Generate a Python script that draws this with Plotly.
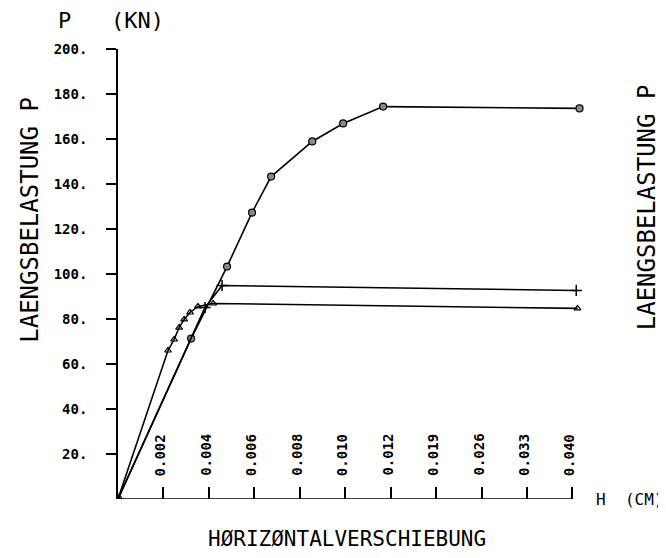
import numpy as np
import plotly.graph_objects as go

# horizontal displacement H (cm) and longitudinal load P (kN)
h_circle = [0.0, 0.00322, 0.0048, 0.0059, 0.00674, 0.00855, 0.00991, 0.01167, 0.0411]
p_circle = [0.0, 71.3, 103.3, 127.3, 143.3, 158.9, 166.9, 174.4, 173.6]

h_plus = [0.0, 0.00383, 0.00458, 0.0406]
p_plus = [0.0, 85.1, 94.9, 92.7]

h_tri = [0.0, 0.0022, 0.00247, 0.00269, 0.00291, 0.00317, 0.00352, 0.00419, 0.0408]
p_tri = [0.0, 66.0, 70.9, 76.2, 79.8, 82.9, 85.6, 86.9, 84.7]

h_ticks = [0.002, 0.004, 0.006, 0.008, 0.010, 0.012, 0.019, 0.026, 0.033, 0.040]
h_tick_text = ["0.002", "0.004", "0.006", "0.008", "0.010", "0.012", "0.019", "0.026", "0.033", "0.040"]
p_ticks = [20, 40, 60, 80, 100, 120, 140, 160, 180, 200]
p_tick_text = [f"{v}." for v in p_ticks]

# the H axis changes its step after 0.012: 0.002 per tick, then 0.007 per tick
H_BREAKS = [0.0, 0.012, 0.040]
H_POS = [0.0, 6.0, 10.0]


def hpos(h):
    h = np.asarray(h, dtype=float)
    return np.where(h <= 0.040, np.interp(h, H_BREAKS, H_POS), 10.0 + (h - 0.040) / 0.007)


MONO = "DejaVu Sans Mono"
OFF = 8                      # page body margin
W, H = 666 - OFF, 558 - 2 * OFF
X0, Y0 = 118, 499.5          # origin in window pixels
PX_UNIT = 45.4               # pixels per H tick
XMAX = 10.3
PW, PH = XMAX * PX_UNIT, 450.5
L, T = X0 - OFF, Y0 - PH - OFF
R, B = W - L - PW, H - T - PH


def px(x):
    return (x - X0) / PW


def py(y):
    return (Y0 - y) / PH


fig = go.Figure()
line = dict(color="black", width=1.6)
fig.add_trace(go.Scatter(x=hpos(h_circle), y=p_circle, mode="lines+markers", line=line,
                         marker=dict(symbol="circle", size=7, color="#8a8a8a",
                                     line=dict(color="black", width=1.2))))
fig.add_trace(go.Scatter(x=hpos(h_plus), y=p_plus, mode="lines+markers", line=line,
                         marker=dict(symbol="cross-thin-open", size=8,
                                     line=dict(color="black", width=1.5))))
fig.add_trace(go.Scatter(x=hpos(h_tri), y=p_tri, mode="lines+markers", line=line,
                         marker=dict(symbol="triangle-up-open", size=6,
                                     line=dict(color="black", width=1.2))))

fig.update_layout(
    width=W, height=H, showlegend=False,
    paper_bgcolor="white", plot_bgcolor="white",
    margin=dict(l=L, r=R, t=T, b=B, autoexpand=False),
    font=dict(family=MONO, color="black"),
    xaxis=dict(range=[0, XMAX], showgrid=False, zeroline=False, showline=False,
               ticks="inside", ticklen=12, tickwidth=1.6, tickcolor="black",
               tickvals=list(hpos(h_ticks)), showticklabels=False),
    yaxis=dict(range=[0, 200], showgrid=False, zeroline=False, showline=True,
               linecolor="black", linewidth=1.6, ticks="outside", ticklen=10,
               tickwidth=1.6, tickcolor="black",
               tickvals=p_ticks, ticktext=p_tick_text, ticklabelstandoff=16,
               tickfont=dict(family=MONO, size=14, weight="bold")),
)

# H axis line stops at the last tick
fig.add_shape(type="line", xref="x", yref="y", x0=0, x1=float(hpos([0.040])[0]), y0=0, y1=0,
              line=dict(color="black", width=1.6))

for xv, txt in zip(hpos(h_ticks), h_tick_text):
    fig.add_annotation(text=txt, x=float(xv), y=0, xref="x", yref="y", showarrow=False,
                       textangle=-90, xanchor="center", yanchor="bottom", yshift=21, xshift=-3,
                       font=dict(family=MONO, size=14, weight="bold", color="black"))

notes = [
    ("P   (KN)", 56, 20, 22, 0, "left"),
    ("LAENGSBELASTUNG P", 30, 220, 24, -90, "center"),
    ("LAENGSBELASTUNG P", 646, 207, 24, -90, "center"),
    ("H  (CM)", 594, 500, 16, 0, "left"),
    ("HØRIZØNTALVERSCHIEBUNG", 347, 540, 21, 0, "center"),
]
for text, x, y, size, ang, anchor in notes:
    fig.add_annotation(text=text, x=px(x), y=py(y), xref="paper", yref="paper",
                       showarrow=False, textangle=ang, xanchor=anchor, yanchor="middle",
                       font=dict(family=MONO, size=size, color="black"))

fig.write_html("out.html")
